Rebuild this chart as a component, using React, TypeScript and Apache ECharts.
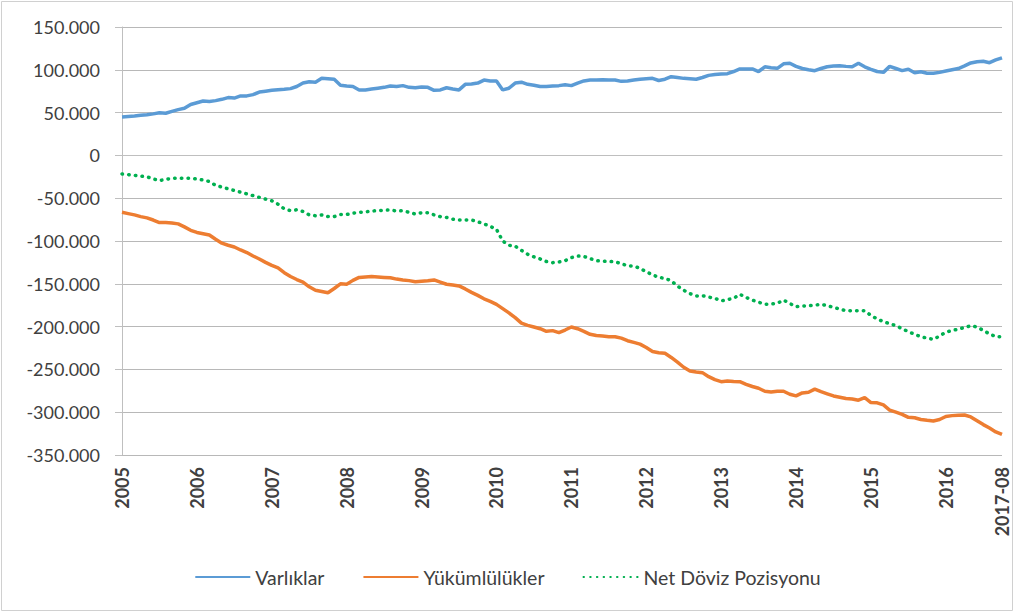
import React, { useEffect, useRef } from "react";
import * as echarts from "echarts";

const yearTicks = ["2005", "2006", "2007", "2008", "2009", "2010", "2011", "2012", "2013", "2014", "2015", "2016"];
const lastTick = "2017-08";

const varliklar = [
  45000, 45500, 46000, 46800, 47500, 48500, 49800, 49200, 51500, 53500,
  55000, 59500, 61500, 63500, 63000, 64000, 65500, 67500, 67000, 69500,
  69500, 71000, 74000, 75000, 76000, 76800, 77200, 78000, 80500, 84500,
  86000, 85500, 90000, 89500, 89000, 82000, 81000, 80500, 76500, 76500,
  77500, 78500, 79500, 81000, 80500, 81500, 79500, 79000, 80000, 79500,
  76000, 76500, 79000, 77500, 76500, 83000, 83500, 84500, 88000, 87000,
  87000, 76500, 78500, 84500, 85500, 83000, 82000, 80500, 80500, 81000,
  81500, 82500, 81500, 84500, 87000, 88000, 88000, 88500, 88000, 88000,
  86500, 87000, 88000, 89000, 89500, 90000, 87500, 89000, 92000, 91000,
  90000, 89500, 89000, 91000, 93500, 94500, 95000, 95500, 98000, 101000,
  101000, 101000, 98000, 103500, 102500, 101700, 107000, 107600, 104000, 101500,
  100000, 99000, 101500, 103600, 104500, 104800, 104000, 103600, 107600, 103500,
  100600, 98000, 97000, 104000, 101500, 99000, 100600, 96600, 97800, 96000,
  96000, 97000, 98500, 100000, 101500, 104500, 108000, 109500, 110000, 108300,
  111500, 114000,
];

const yukumlulukler = [
  -66500, -68000, -69500, -71500, -73000, -75500, -78500, -78500, -79000, -80000,
  -83500, -87500, -90000, -91500, -93000, -98000, -102500, -105000, -107000, -110500,
  -113500, -117500, -121000, -125000, -128500, -131500, -137000, -141500, -145000, -148000,
  -153500, -157500, -159000, -160500, -155500, -150000, -150500, -146000, -142500, -142000,
  -141600, -142000, -142500, -143000, -144500, -145500, -146300, -147500, -147000, -146500,
  -145500, -148000, -150500, -151500, -152500, -156000, -160000, -163500, -167500, -170500,
  -174000, -179000, -184000, -189500, -196000, -198500, -200500, -202500, -205500, -204700,
  -207000, -204000, -200500, -202500, -205500, -209000, -210500, -211000, -211800, -211800,
  -213500, -216500, -218500, -220500, -224500, -229000, -230500, -231200, -236000, -241500,
  -247500, -251800, -253000, -253800, -258500, -262000, -264300, -263500, -264000, -264300,
  -267500, -270000, -272000, -275500, -276500, -275500, -275500, -279000, -281000, -277500,
  -276700, -273000, -276000, -278500, -281000, -282500, -284000, -284500, -286000, -283000,
  -288800, -289000, -291500, -297500, -300000, -302500, -306000, -306500, -308500, -309500,
  -310300, -308500, -305000, -304000, -303500, -303300, -305500, -310000, -314500, -318500,
  -323000, -326000,
];

const netDoviz = [
  -21700, -22500, -23300, -24200, -25000, -27500, -29500, -28000, -26800, -26500,
  -26800, -26800, -27500, -28800, -30500, -35000, -37000, -39000, -41000, -43000,
  -45000, -47000, -49000, -51000, -53000, -57000, -62500, -64500, -63500, -65500,
  -69500, -70500, -69500, -71500, -71500, -69000, -69000, -67500, -66500, -66000,
  -65000, -64500, -64000, -63800, -65000, -64600, -66500, -68500, -67000, -67000,
  -69500, -71500, -72500, -74500, -75500, -75500, -75500, -77500, -80000, -83000,
  -86300, -100000, -105000, -106000, -111000, -115500, -118500, -121000, -124000, -125300,
  -124500, -123000, -119500, -117500, -118000, -120500, -123000, -123500, -124000, -124200,
  -126500, -129000, -129200, -132000, -136000, -139500, -142500, -143600, -146500, -152600,
  -157500, -161500, -164200, -163900, -165500, -167000, -170000, -168500, -167000, -162300,
  -166000, -169000, -171500, -174000, -173500, -172800, -169000, -173000, -176800, -176000,
  -175600, -175000, -174000, -175500, -177500, -179500, -181500, -181500, -181500, -181500,
  -187000, -191000, -194300, -196500, -199000, -202500, -206000, -209000, -211800, -213500,
  -214900, -211000, -206500, -204500, -203000, -201000, -199000, -200500, -204500, -208500,
  -211800, -212000,
];

const categories: string[] = varliklar.map((_, i) => {
  if (i === varliklar.length - 1) return lastTick;
  if (i % 12 === 0) return yearTicks[i / 12] ?? "";
  return "";
});

const fmt = (v: number) => {
  if (v === 0) return "0";
  const s = Math.abs(v).toString().replace(/\B(?=(\d{3})+(?!\d))/g, ".");
  return (v < 0 ? "-" : "") + s;
};

const FONT = "Lato, 'Open Sans', sans-serif";

export default function App() {
  const ref = useRef<HTMLDivElement>(null);
  useEffect(() => {
    if (!ref.current) return;
    const chart = echarts.init(ref.current, undefined, { renderer: "svg" });
    chart.setOption({
      animation: false,
      backgroundColor: "#ffffff",
      graphic: [
        {
          type: "rect",
          shape: { x: 1.5, y: 1.5, width: 1011, height: 609 },
          style: { fill: "none", stroke: "#d0d0d0", lineWidth: 1 },
          silent: true,
        },
      ],
      grid: { left: 122, right: 13, top: 27, bottom: 159 },
      xAxis: {
        type: "category",
        data: categories,
        boundaryGap: false,
        axisLine: { show: true, lineStyle: { color: "#bfbfbf", width: 1 } },
        axisTick: { show: false },
        axisLabel: {
          interval: (index: number, value: string) => value !== "",
          rotate: 90,
          margin: 12,
          fontFamily: FONT,
          fontSize: 18,
          fontWeight: "bold",
          color: "#404040",
        },
        splitLine: { show: false },
      },
      yAxis: {
        type: "value",
        min: -350000,
        max: 150000,
        interval: 50000,
        axisLine: { show: true, lineStyle: { color: "#bfbfbf", width: 1 } },
        axisTick: { show: true, length: 7, lineStyle: { color: "#bfbfbf" } },
        axisLabel: {
          formatter: fmt,
          margin: 22,
          fontFamily: FONT,
          fontSize: 18,
          color: "#404040",
        },
        splitLine: { show: true, lineStyle: { color: "#b8b8b8", width: 1 } },
      },
      legend: {
        bottom: 22,
        left: "center",
        itemWidth: 55,
        itemHeight: 12,
        itemGap: 38,
        itemStyle: { opacity: 0 },
        textStyle: { fontFamily: FONT, fontSize: 19.5, color: "#404040" },
        data: ["Varlıklar", "Yükümlülükler", "Net Döviz Pozisyonu"],
      },
      series: [
        {
          name: "Varlıklar",
          type: "line",
          data: varliklar,
          symbol: "none",
          lineStyle: { color: "#5B9BD5", width: 3.5 },
          itemStyle: { color: "#5B9BD5" },
        },
        {
          name: "Yükümlülükler",
          type: "line",
          data: yukumlulukler,
          symbol: "none",
          lineStyle: { color: "#ED7D31", width: 3.5 },
          itemStyle: { color: "#ED7D31" },
        },
        {
          name: "Net Döviz Pozisyonu",
          type: "line",
          data: netDoviz,
          symbol: "none",
          lineStyle: { color: "#00B050", width: 3.5, type: [0.5, 6.2], cap: "round" },
          itemStyle: { color: "#00B050" },
        },
      ],
    });
    return () => chart.dispose();
  }, []);
  return (
    <div
      ref={ref}
      style={{ position: "absolute", left: 0, top: 0, width: 1015, height: 614 }}
    />
  );
}
